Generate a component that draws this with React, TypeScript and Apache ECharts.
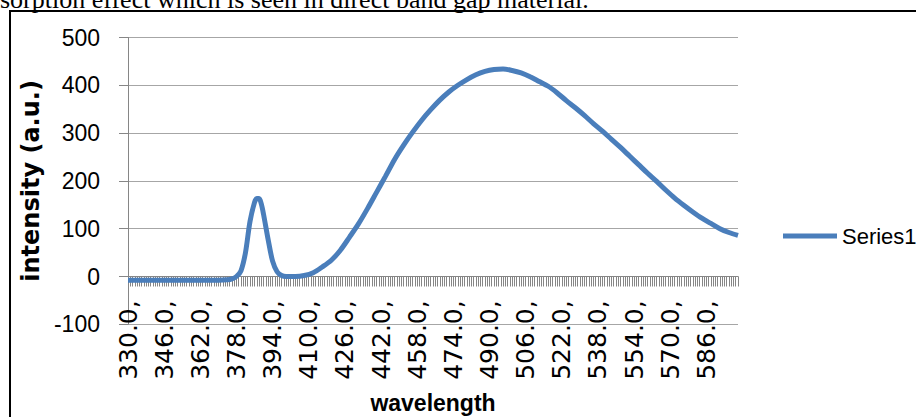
import React, { useEffect, useRef } from "react";
import * as echarts from "echarts";

const WL_START = 330;
const WL_END = 600;
const CATEGORY_WAVELENGTHS: number[] = [];
for (let w = WL_START; w <= WL_END; w++) CATEGORY_WAVELENGTHS.push(w);

const Y_TICKS = [-100, 0, 100, 200, 300, 400, 500];

const WAVELENGTHS = [
  330, 340, 350, 360, 370, 374, 376, 378, 380, 382, 384, 386, 387, 388, 389, 390,
  392, 394, 396, 398, 400, 404, 408, 412, 416, 420, 424, 428, 432, 436, 440, 444,
  448, 452, 456, 460, 464, 468, 472, 476, 480, 484, 488, 492, 496, 500, 504, 508,
  512, 516, 520, 524, 528, 532, 536, 540, 544, 548, 552, 556, 560, 564, 568, 572,
  576, 580, 584, 588, 592, 596, 600,
];
const INTENSITY = [
  -8, -8, -8, -8, -8, -7, -5, 0, 12, 50, 115, 155, 163, 163, 152, 130,
  78, 32, 10, 2, 0, 0, 2, 8, 20, 34, 55, 82, 110, 142, 176, 210,
  245, 275, 302, 327, 349, 369, 386, 400, 412, 422, 429, 433, 434, 431, 426, 418,
  408, 398, 384, 368, 353, 337, 320, 304, 287, 270, 252, 234, 216, 199, 181, 164,
  149, 135, 122, 111, 100, 92, 86,
];

const SERIES_NAME = "Series1";
const X_TITLE = "wavelength";
const Y_TITLE = "intensity (a.u.)";
const CAPTION = "sorption effect which is seen in direct band gap material.";

const SANS = "'Liberation Sans', Arial, sans-serif";

export default function App() {
  const ref = useRef<HTMLDivElement>(null);
  useEffect(() => {
    document.body.style.margin = "0";
    if (!ref.current) return;
    const chart = echarts.init(ref.current, null, { renderer: "svg" });
    const data = WAVELENGTHS.map((w, i) => [w - WL_START, INTENSITY[i]]);
    chart.setOption({
      animation: false,
      backgroundColor: "#ffffff",
      grid: {
        left: 128,
        right: 178,
        top: 37.5,
        bottom: 92.7,
        containLabel: false,
        outerBoundsMode: "none",
      },
      legend: {
        show: true,
        left: 778,
        top: 220,
        itemWidth: 54,
        itemHeight: 14,
        itemGap: 5,
        textStyle: { fontFamily: SANS, fontSize: 22, color: "#000" },
        data: [{ name: SERIES_NAME, icon: "path://M0,6L54,6L54,11L0,11Z", itemStyle: { color: "#4A7EBB" } }],
      },
      xAxis: {
        type: "category",
        boundaryGap: false,
        data: CATEGORY_WAVELENGTHS.map(String),
        axisLine: { show: true, onZero: true, lineStyle: { color: "#868686", width: 1 } },
        axisTick: { show: true, interval: 0, length: 10, lineStyle: { color: "#868686", width: 1 } },
        axisLabel: {
          interval: 15,
          rotate: 90,
          margin: -24,
          formatter: (v: string) => v + ".0,",
          fontFamily: "'DejaVu Sans', sans-serif",
          fontSize: 25,
          color: "#000",
        },
        splitLine: { show: false },
        name: X_TITLE,
        nameLocation: "middle",
        nameGap: 67,
        nameTextStyle: {
          fontFamily: SANS,
          fontWeight: "bold",
          fontSize: 23,
          color: "#000",
        },
      },
      yAxis: {
        type: "value",
        min: Y_TICKS[0],
        max: Y_TICKS[Y_TICKS.length - 1],
        interval: 100,
        axisLine: { show: true, lineStyle: { color: "#868686", width: 1 } },
        axisTick: { show: true, length: 9, lineStyle: { color: "#868686", width: 1 } },
        axisLabel: {
          margin: 28,
          fontFamily: SANS,
          fontSize: 23,
          color: "#000",
        },
        splitLine: { show: true, lineStyle: { color: "#a6a6a6", width: 1 } },
        name: Y_TITLE,
        nameLocation: "middle",
        nameGap: 84,
        nameTextStyle: {
          fontFamily: "'DejaVu Sans', sans-serif",
          fontWeight: "bold",
          fontSize: 24,
          color: "#000",
        },
      },
      series: [
        {
          name: SERIES_NAME,
          type: "line",
          data,
          symbol: "none",
          smooth: 0.3,
          lineStyle: { color: "#4A7EBB", width: 5 },
          itemStyle: { color: "#4A7EBB" },
        },
      ],
      graphic: [
        {
          type: "rect",
          shape: { x: 10, y: 11, width: 1000, height: 1000 },
          style: { fill: "none", stroke: "#000", lineWidth: 2 },
          silent: true,
        },
        {
          type: "text",
          x: 0,
          y: -1,
          style: {
            text: CAPTION,
            font: "26px 'Liberation Serif', 'Times New Roman', serif",
            fill: "#000",
            verticalAlign: "middle",
            align: "left",
          },
          silent: true,
        },
      ],
    });
    return () => chart.dispose();
  }, []);
  return (
    <div
      ref={ref}
      style={{ position: "fixed", left: 0, top: 0, width: 916, height: 417, background: "#fff" }}
    />
  );
}
